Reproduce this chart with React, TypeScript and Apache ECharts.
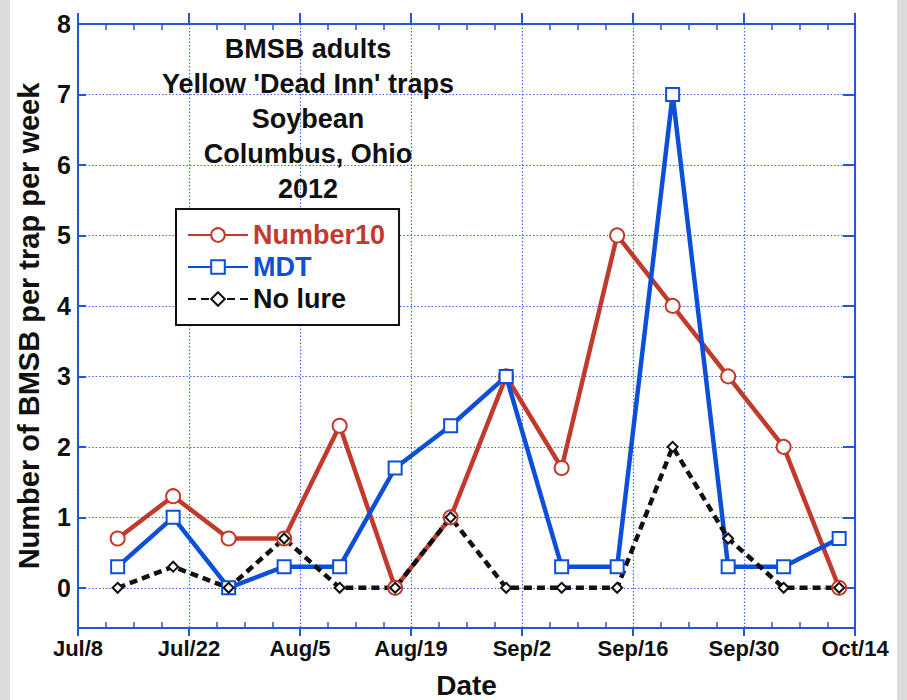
import React, { useEffect, useRef } from 'react';
import * as echarts from 'echarts';

const startDate = '2012-07-08';
const dates = [
  '2012-07-13', '2012-07-20', '2012-07-27', '2012-08-03', '2012-08-10', '2012-08-17', '2012-08-24',
  '2012-08-31', '2012-09-07', '2012-09-14', '2012-09-21', '2012-09-28', '2012-10-05', '2012-10-12',
];
const number10 = [0.7, 1.3, 0.7, 0.7, 2.3, 0, 1.0, 3.0, 1.7, 5.0, 4.0, 3.0, 2.0, 0];
const mdt = [0.3, 1.0, 0, 0.3, 0.3, 1.7, 2.3, 3.0, 0.3, 0.3, 7.0, 0.3, 0.3, 0.7];
const noLure = [0, 0.3, 0, 0.7, 0, 0, 1.0, 0, 0, 0, 2.0, 0.7, 0, 0];
const tickLabels = ['Jul/8', 'Jul/22', 'Aug/5', 'Aug/19', 'Sep/2', 'Sep/16', 'Sep/30', 'Oct/14'];
const titleLines = ['BMSB adults', "Yellow 'Dead Inn' traps", 'Soybean', 'Columbus, Ohio', '2012'];
const yTitle = 'Number of BMSB per trap per week';
const xTitle = 'Date';

const DAY = 86400000;
const toDay = (d: string) => (Date.parse(d) - Date.parse(startDate)) / DAY;

export default function App() {
  const ref = useRef<HTMLDivElement>(null);
  useEffect(() => {
    const chart = echarts.init(ref.current!, null, { renderer: 'svg' });
    const FONT = "'Liberation Sans', Arial, sans-serif";
    const AXIS = '#2456d8';
    const GRID = '#3c68e0';
    const RED = '#c23a2c';
    const BLUE = '#0c4fd9';
    const BLACK = '#111111';
    const xMax = (tickLabels.length - 1) * 14;
    const xBase = { type: 'value', min: 0, max: xMax, interval: 14, gridIndex: 0 };
    const yBase = { type: 'value', min: -0.57, max: 8, minInterval: 1, maxInterval: 1, splitNumber: 9, gridIndex: 0 };
    const axisLine = { show: true, onZero: false, lineStyle: { color: AXIS, width: 2 } };
    const hiddenLine = { show: false, onZero: false };
    const mk = (vals: number[]) => dates.map((d, i) => [toDay(d), vals[i]]);

    chart.setOption({
      animation: false,
      backgroundColor: '#ffffff',
      textStyle: { fontFamily: FONT },
      grid: { left: 78, right: 52, top: 24, bottom: 72, containLabel: false, outerBoundsMode: 'none' },
      xAxis: [
        {
          ...xBase,
          position: 'bottom',
          axisLine,
          axisTick: { show: true, inside: false, length: 8, lineStyle: { color: AXIS, width: 2 } },
          axisLabel: {
            show: true,
            margin: 9,
            fontSize: 22,
            fontWeight: 'bold',
            color: '#111',
            fontFamily: FONT,
            formatter: (v: number) => tickLabels[Math.round(v / 14)] ?? '',
          },
          splitLine: { show: true, lineStyle: { color: GRID, width: 1.2, type: [1.5, 2] } },
          name: xTitle,
          nameLocation: 'middle',
          nameGap: 43,
          nameTextStyle: { fontSize: 28, fontWeight: 'bold', color: '#111', fontFamily: FONT },
        },
        {
          ...xBase,
          position: 'top',
          axisLine,
          axisTick: { show: true, inside: false, length: 11, lineStyle: { color: AXIS, width: 2 } },
          axisLabel: { show: false },
          splitLine: { show: false },
        },
        {
          ...xBase,
          position: 'bottom',
          axisLine: hiddenLine,
          axisTick: { show: false, inside: true },
          minorTick: { show: true, splitNumber: 4, length: 6, lineStyle: { color: AXIS, width: 1.5 } },
          axisLabel: { show: false },
          splitLine: { show: false },
        },
        {
          ...xBase,
          position: 'top',
          axisLine: hiddenLine,
          axisTick: { show: false, inside: true },
          minorTick: { show: true, splitNumber: 4, length: 6, lineStyle: { color: AXIS, width: 1.5 } },
          axisLabel: { show: false },
          splitLine: { show: false },
        },
      ],
      yAxis: [
        {
          ...yBase,
          position: 'left',
          axisLine,
          axisTick: { show: true, inside: true, length: 8, lineStyle: { color: AXIS, width: 2 } },
          axisLabel: {
            show: true,
            margin: 7,
            fontSize: 25,
            fontWeight: 'bold',
            color: '#111',
            fontFamily: FONT,
            formatter: (v: number) => (Math.abs(v - Math.round(v)) < 1e-6 ? String(Math.round(v)) : ''),
          },
          splitLine: { show: true, lineStyle: { color: GRID, width: 1.2, type: [1.5, 2] } },
          name: yTitle,
          nameLocation: 'middle',
          nameGap: 35,
          nameMoveOverlap: false,
          nameRotate: 90,
          nameTextStyle: { fontSize: 29, fontWeight: 'bold', color: '#111', fontFamily: FONT },
        },
        {
          ...yBase,
          position: 'right',
          axisLine,
          axisTick: { show: true, inside: true, length: 12, lineStyle: { color: AXIS, width: 2 } },
          axisLabel: { show: false },
          splitLine: { show: false },
        },
      ],
      legend: {
        orient: 'vertical',
        left: 176,
        top: 209,
        padding: [11, 14, 11, 11],
        itemWidth: 60,
        itemHeight: 17,
        itemGap: 2,
        borderColor: '#111',
        borderWidth: 2,
        backgroundColor: '#ffffff',
        textStyle: { fontSize: 27, fontWeight: 'bold', fontFamily: FONT, lineHeight: 30 },
        data: [
          { name: 'Number10', textStyle: { color: RED } },
          { name: 'MDT', textStyle: { color: BLUE } },
          { name: 'No lure', textStyle: { color: BLACK } },
        ],
      },
      graphic: [
        { type: 'rect', shape: { x: 0, y: 0, width: 10, height: 700 }, style: { fill: '#dcdcdc' }, silent: true },
        { type: 'rect', shape: { x: 897, y: 0, width: 10, height: 700 }, style: { fill: '#dcdcdc' }, silent: true },
        {
          type: 'text',
          x: 308,
          y: 31,
          z: 10,
          style: {
            text: titleLines.join('\n'),
            align: 'center',
            verticalAlign: 'top',
            fontSize: 27,
            fontWeight: 'bold',
            fontFamily: FONT,
            lineHeight: 35,
            fill: '#111',
          },
        },
      ],
      series: [
        {
          name: 'Number10',
          type: 'line',
          xAxisIndex: 0,
          yAxisIndex: 0,
          data: mk(number10),
          symbol: 'emptyCircle',
          symbolSize: 14,
          lineStyle: { color: RED, width: 4.5 },
          itemStyle: { color: RED, borderColor: RED, borderWidth: 2 },
        },
        {
          name: 'MDT',
          type: 'line',
          xAxisIndex: 0,
          yAxisIndex: 0,
          data: mk(mdt),
          symbol: 'emptyRect',
          symbolSize: 13,
          lineStyle: { color: BLUE, width: 4.5 },
          itemStyle: { color: BLUE, borderColor: BLUE, borderWidth: 1.5 },
        },
        {
          name: 'No lure',
          type: 'line',
          xAxisIndex: 0,
          yAxisIndex: 0,
          data: mk(noLure),
          symbol: 'emptyDiamond',
          symbolSize: 10,
          lineStyle: { color: BLACK, width: 4.5, type: [8, 5] },
          itemStyle: { color: BLACK, borderColor: BLACK, borderWidth: 2 },
        },
      ],
    });
    return () => chart.dispose();
  }, []);

  return (
    <div style={{ position: 'absolute', left: 0, top: 0, width: 907, height: 700 }}>
      <div ref={ref} style={{ width: 907, height: 700 }} />
    </div>
  );
}
